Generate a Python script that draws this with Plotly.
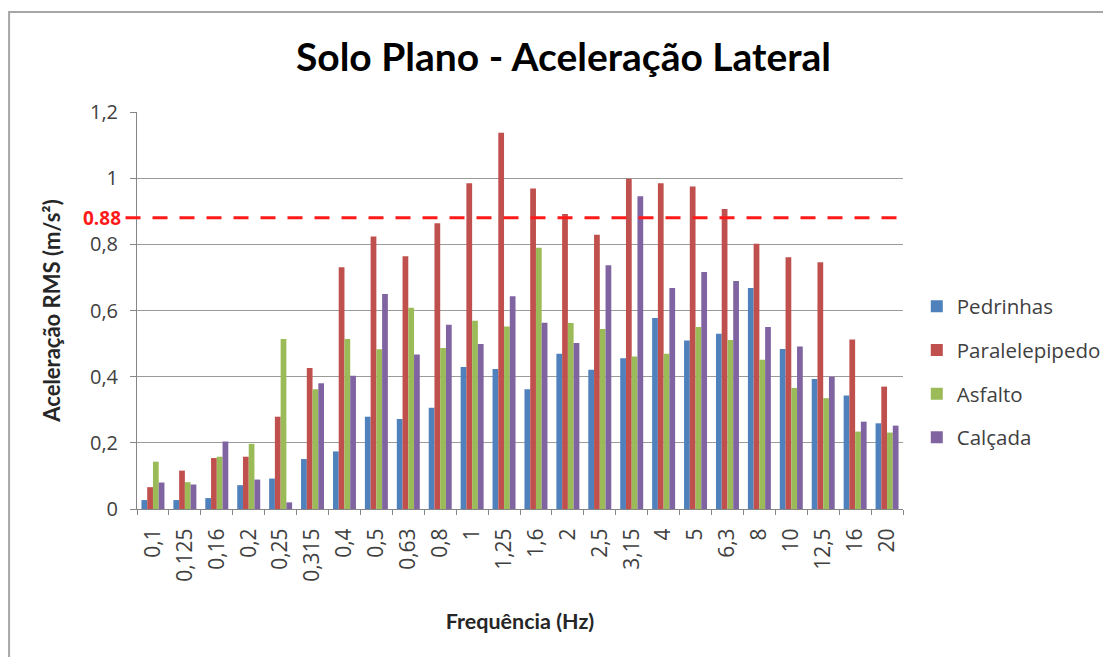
import plotly.graph_objects as go

categories = ["0,1", "0,125", "0,16", "0,2", "0,25", "0,315", "0,4", "0,5", "0,63", "0,8",
              "1", "1,25", "1,6", "2", "2,5", "3,15", "4", "5", "6,3", "8", "10", "12,5", "16", "20"]

pedrinhas = [0.027, 0.027, 0.033, 0.072, 0.092, 0.151, 0.174, 0.279, 0.272, 0.306,
             0.429, 0.423, 0.362, 0.469, 0.421, 0.456, 0.577, 0.509, 0.530, 0.668,
             0.484, 0.393, 0.343, 0.259]
paralelepipedo = [0.066, 0.116, 0.154, 0.158, 0.279, 0.426, 0.731, 0.824, 0.764, 0.864,
                  0.985, 1.137, 0.969, 0.892, 0.829, 0.998, 0.985, 0.975, 0.907, 0.802,
                  0.761, 0.746, 0.512, 0.370]
asfalto = [0.143, 0.081, 0.158, 0.197, 0.514, 0.362, 0.514, 0.483, 0.608, 0.487,
           0.569, 0.552, 0.790, 0.562, 0.544, 0.461, 0.469, 0.550, 0.511, 0.451,
           0.366, 0.335, 0.234, 0.231]
calcada = [0.080, 0.074, 0.204, 0.089, 0.020, 0.380, 0.403, 0.650, 0.467, 0.557,
           0.499, 0.643, 0.563, 0.502, 0.737, 0.945, 0.668, 0.716, 0.689, 0.550,
           0.491, 0.400, 0.264, 0.252]

series_names = ["Pedrinhas", "Paralelepipedo", "Asfalto", "Calçada"]
series_values = [pedrinhas, paralelepipedo, asfalto, calcada]
colors = ["#4F81BD", "#C0504D", "#9BBB59", "#8064A2"]

limit_value = 0.88
limit_label = "0.88"

fig = go.Figure()
for name, vals, col in zip(series_names, series_values, colors):
    fig.add_trace(go.Bar(x=categories, y=vals, name=name, marker_color=col,
                         marker_line_width=0, legendgroup=name))

fig.add_shape(type="line", xref="paper", yref="y", x0=-0.015, x1=1.003,
              y0=limit_value, y1=limit_value,
              line=dict(color="#FF1A1A", width=3, dash="15px,12px"))
fig.add_annotation(xref="paper", yref="y", x=-0.018, y=limit_value, text="<b>" + limit_label + "</b>",
                   showarrow=False, xanchor="right", yanchor="middle",
                   font=dict(family="Open Sans", size=19, color="#FF1A1A"))

# outer chart frame
fig.add_shape(type="rect", xref="paper", yref="paper", x0=-0.167, x1=2.0, y0=-2.0, y1=1.252,
              line=dict(color="#A6A6A6", width=2), fillcolor="rgba(0,0,0,0)", layer="below")

fig.update_layout(
    width=1111, height=657,
    margin=dict(l=129, r=216, t=104, b=156),
    paper_bgcolor="white", plot_bgcolor="white",
    separators=",.",
    barmode="group", bargap=0.28, bargroupgap=0,
    title=dict(text="<b>Solo Plano - Aceleração Lateral</b>", x=0.50, xanchor="center",
               y=0.925, yanchor="middle",
               font=dict(family="Lato", size=39, color="#000000")),
    font=dict(family="Open Sans", color="#404040"),
    xaxis=dict(type="category", tickangle=-90, tickfont=dict(size=21, color="#404040"),
               showline=True, linecolor="#868686", linewidth=1, ticks="outside",
               tickson="boundaries", ticklen=5, tickcolor="#868686", ticklabelstandoff=10,
               title=dict(text="<b>Frequência (Hz)</b>", font=dict(family="Lato", size=21.5, color="#262626"),
                          standoff=33)),
    yaxis=dict(range=[0, 1.2], dtick=0.2, tick0=0, showgrid=True, gridcolor="#9A9A9A", gridwidth=1,
               showline=True, linecolor="#868686", linewidth=1, ticks="outside", ticklen=6,
               tickcolor="#868686", tickfont=dict(size=20, color="#404040"), zeroline=False,
               ticklabelstandoff=8,
               title=dict(text="<b>Aceleração RMS (m/s²)</b>", font=dict(family="Lato", size=22, color="#262626"),
                          standoff=23)),
    legend=dict(x=1.018, y=0.345, xanchor="left", yanchor="middle", tracegroupgap=14,
                font=dict(family="Open Sans", size=20.5, color="#404040"), bgcolor="rgba(0,0,0,0)"),
    showlegend=True,
)

fig.write_html("out.html")
